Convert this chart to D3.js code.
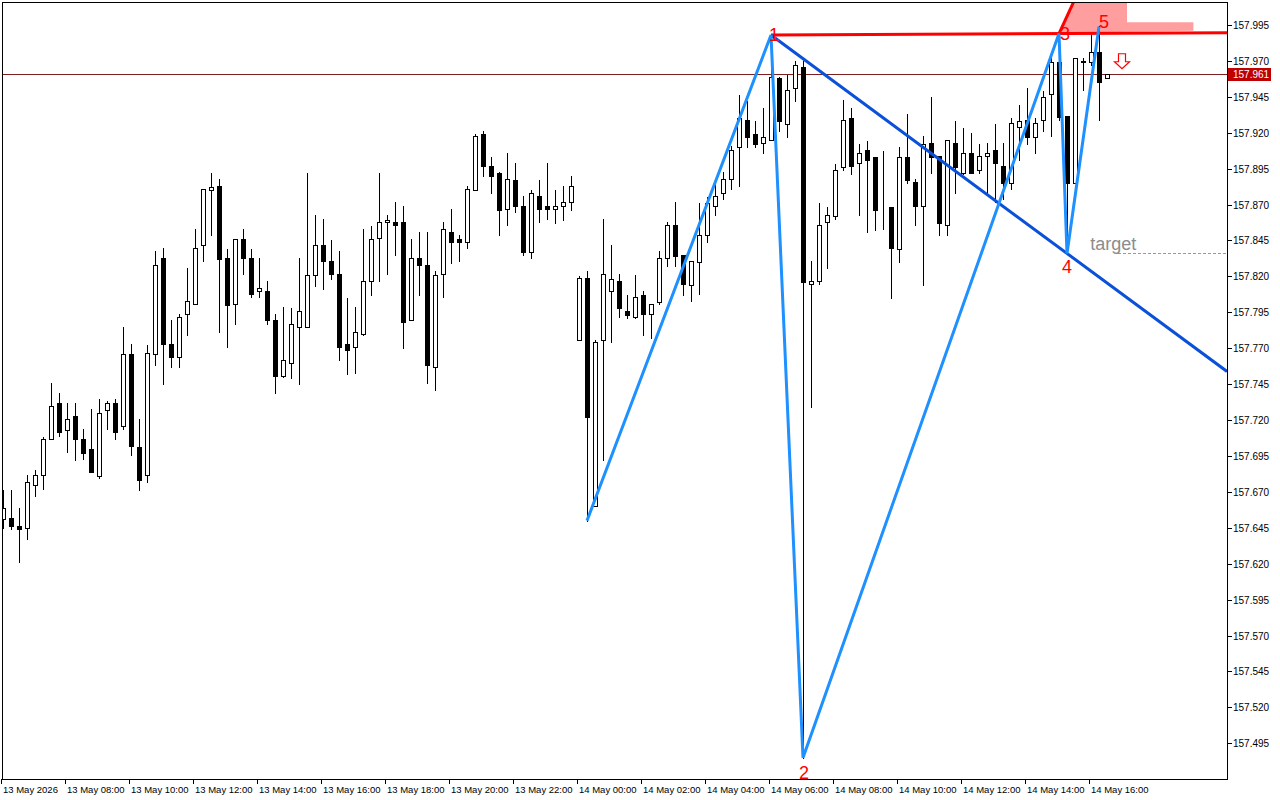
<!DOCTYPE html>
<html>
<head>
<meta charset="utf-8">
<script src="https://cdn.jsdelivr.net/npm/d3@7"></script>
<style>
  html, body { margin: 0; padding: 0; background: #ffffff; }
  svg { display: block; }
  text { font-family: "Liberation Sans", Arial, sans-serif; }
</style>
</head>
<body>
<svg id="chart" width="1280" height="800"></svg>
<script>
// ---- Data: 15-minute candles, 13 May 2026 06:00 -> 14 May 16:30 ----
const opens = [157.651,157.652,157.646,157.645,157.675,157.682,157.707,157.732,157.713,157.723,
157.707,157.700,157.681,157.727,157.732,157.716,157.766,157.701,157.682,157.766,
157.833,157.773,157.764,157.794,157.801,157.842,157.880,157.883,157.833,157.801,
157.846,157.833,157.810,157.810,157.790,157.751,157.760,157.785,157.785,157.821,
157.842,157.831,157.822,157.773,157.771,157.780,157.817,157.847,157.858,157.858,
157.858,157.790,157.833,157.828,157.757,157.822,157.851,157.846,157.844,157.880,
157.919,157.897,157.892,157.867,157.887,157.869,157.837,157.876,157.869,157.867,
157.869,157.872,157.776,157.819,157.660,157.776,157.810,157.817,157.796,157.792,
157.807,157.794,157.802,157.833,157.856,157.835,157.814,157.830,157.849,157.869,
157.878,157.888,157.910,157.929,157.919,157.913,157.915,157.958,157.926,157.951,
157.966,157.815,157.817,157.858,157.862,157.896,157.930,157.899,157.908,157.903,
157.867,157.868,157.839,157.903,157.886,157.869,157.913,157.904,157.856,157.913,
157.892,157.906,157.894,157.904,157.908,157.897,157.885,157.924,157.929,157.917,
157.929,157.947,157.969,157.932,157.885,157.969,157.969,157.976,157.958];
const highs = [157.671,157.671,157.659,157.682,157.685,157.708,157.746,157.739,157.732,157.732,
157.714,157.728,157.735,157.733,157.735,157.785,157.773,157.721,157.772,157.838,
157.840,157.790,157.794,157.826,157.853,157.881,157.892,157.888,157.839,157.846,
157.853,157.839,157.833,157.817,157.794,157.799,157.798,157.833,157.892,157.863,
157.860,157.845,157.838,157.805,157.799,157.853,157.855,157.892,157.863,157.872,
157.869,157.846,157.851,157.851,157.824,157.858,157.867,157.849,157.883,157.919,
157.921,157.903,157.893,157.906,157.899,157.876,157.880,157.887,157.899,157.880,
157.883,157.890,157.820,157.824,157.776,157.860,157.842,157.822,157.807,157.821,
157.810,157.801,157.838,157.858,157.872,157.835,157.831,157.871,157.875,157.884,
157.893,157.911,157.946,157.942,157.928,157.937,157.988,157.959,157.960,157.970,
157.970,157.831,157.871,157.868,157.898,157.943,157.937,157.912,157.914,157.903,
157.907,157.868,157.910,157.933,157.888,157.918,157.945,157.904,157.915,157.928,
157.923,157.920,157.912,157.913,157.926,157.913,157.930,157.939,157.951,157.930,
157.949,157.973,157.989,157.932,157.972,157.972,157.989,157.994,157.961];
const lows = [157.645,157.644,157.621,157.637,157.667,157.672,157.707,157.709,157.698,157.692,
157.693,157.684,157.680,157.714,157.707,157.714,157.696,157.671,157.677,157.758,
157.745,157.757,157.757,157.779,157.801,157.831,157.849,157.781,157.771,157.787,
157.822,157.806,157.806,157.787,157.739,157.750,157.749,157.745,157.785,157.813,
157.811,157.818,157.762,157.752,157.753,157.779,157.807,157.817,157.822,157.835,
157.770,157.790,157.807,157.746,157.741,157.806,157.829,157.831,157.840,157.880,
157.890,157.878,157.849,157.856,157.865,157.835,157.833,157.858,157.860,157.857,
157.859,157.866,157.776,157.650,157.660,157.692,157.774,157.792,157.791,157.791,
157.779,157.777,157.801,157.827,157.827,157.807,157.803,157.808,157.844,157.863,
157.874,157.881,157.883,157.910,157.910,157.906,157.915,157.921,157.917,157.942,
157.485,157.729,157.815,157.826,157.860,157.894,157.891,157.863,157.851,157.852,
157.853,157.805,157.830,157.885,157.856,157.814,157.892,157.849,157.849,157.878,
157.891,157.892,157.892,157.878,157.872,157.874,157.881,157.901,157.912,157.906,
157.921,157.918,157.929,157.836,157.885,157.950,157.967,157.929,157.958];
const closes = [157.659,157.646,157.644,157.677,157.682,157.707,157.730,157.712,157.721,157.707,
157.697,157.684,157.725,157.732,157.712,157.766,157.702,157.678,157.767,157.828,
157.773,157.764,157.792,157.803,157.840,157.881,157.882,157.832,157.800,157.846,
157.833,157.808,157.812,157.790,157.751,157.762,157.787,157.796,157.821,157.842,
157.831,157.822,157.771,157.769,157.781,157.817,157.846,157.858,157.859,157.856,
157.788,157.833,157.828,157.758,157.821,157.853,157.844,157.844,157.881,157.918,
157.897,157.890,157.866,157.888,157.869,157.837,157.878,157.867,157.867,157.869,
157.872,157.883,157.819,157.722,157.774,157.822,157.818,157.798,157.793,157.806,
157.794,157.801,157.833,157.856,157.834,157.815,157.831,157.849,157.871,157.876,
157.888,157.908,157.930,157.917,157.912,157.917,157.959,157.928,157.950,157.967,
157.816,157.817,157.856,157.863,157.894,157.929,157.897,157.906,157.901,157.866,
157.867,157.840,157.903,157.887,157.869,157.912,157.903,157.857,157.915,157.896,
157.906,157.892,157.904,157.906,157.899,157.885,157.927,157.928,157.917,157.927,
157.945,157.969,157.931,157.885,157.972,157.970,157.976,157.955,157.961];

// Price and time axis labels
const priceTicks = [157.495,157.520,157.545,157.570,157.595,157.620,157.645,157.670,157.695,157.720,
157.745,157.770,157.795,157.820,157.845,157.870,157.895,157.920,157.945,157.970,157.995];
const timeLabels = ["13 May 2026","13 May 08:00","13 May 10:00","13 May 12:00","13 May 14:00",
"13 May 16:00","13 May 18:00","13 May 20:00","13 May 22:00","14 May 00:00","14 May 02:00",
"14 May 04:00","14 May 06:00","14 May 08:00","14 May 10:00","14 May 12:00","14 May 14:00","14 May 16:00"];
const timeLabelIndex = [0,8,16,24,32,40,48,56,64,72,80,88,96,104,112,120,128,136];

// Wave points (candle index, price)
const waveIdx = [73, 96, 100, 132, 133, 137];
const wavePrice = [157.650, 157.988, 157.485, 157.989, 157.836, 157.994];
const waveNames = ["", "1", "2", "3", "4", "5"];
const currentPrice = 157.961;
const targetPrice = 157.836;

// ---- Layout ----
const W = 1280, H = 800;
const plotR = 1227, plotB = 779;
const svg = d3.select("#chart");

const x = d3.scaleLinear().domain([0, 138]).range([3, 1107]);
const y = d3.scaleLinear().domain([157.495, 157.995]).range([743.3, 25]);

const candles = opens.map((o, i) => ({i, o, h: highs[i], l: lows[i], c: closes[i]}));

svg.append("rect").attr("x", 0).attr("y", 0).attr("width", W).attr("height", H).attr("fill", "#fff");

const plot = svg.append("g");
svg.append("clipPath").attr("id", "clipP").append("rect")
  .attr("x", 3).attr("y", 3).attr("width", plotR - 3).attr("height", plotB - 3);

const gz = plot.append("g").attr("clip-path", "url(#clipP)");

// pink reversal zone
gz.append("path")
  .attr("d", `M${x(131.9)},${y(157.989)} L${x(135.4)},${y(158.030)} L${x(140.5)},${y(158.030)} L${x(140.5)},${y(157.997)}
    L${x(148.8)},${y(157.997)} L${x(148.8)},${y(157.991)} L${x(137)},${y(157.990)} L${x(136)},${y(157.989)} Z`)
  .attr("fill", "#ff9e9e");

// current price line
gz.append("line").attr("x1", 0).attr("x2", plotR)
  .attr("y1", Math.round(y(currentPrice)) + 0.5).attr("y2", Math.round(y(currentPrice)) + 0.5)
  .attr("stroke", "#7a1f1f").attr("stroke-width", 1);

// candles
const cg = gz.append("g");
candles.forEach(d => {
  const cx = Math.round(x(d.i)) + 0.5;
  cg.append("line").attr("x1", cx).attr("x2", cx)
    .attr("y1", Math.round(y(d.h))).attr("y2", Math.round(y(d.l)) + 1)
    .attr("stroke", "#000").attr("stroke-width", 1);
  const top = Math.round(y(Math.max(d.o, d.c)));
  const bot = Math.round(y(Math.min(d.o, d.c)));
  const bull = d.c >= d.o;
  cg.append("rect").attr("x", cx - 2).attr("y", top + 0.5)
    .attr("width", 4).attr("height", Math.max(0, bot - top))
    .attr("fill", bull ? "#fff" : "#000").attr("stroke", "#000").attr("stroke-width", 1);
});

// red resistance line through 1 and 3 extended
const p1 = [x(waveIdx[1]), y(wavePrice[1])];
const p3 = [x(waveIdx[3]), y(wavePrice[3])];
const slopeR = (p3[1] - p1[1]) / (p3[0] - p1[0]);
gz.append("line").attr("x1", p1[0]).attr("y1", p1[1]).attr("x2", plotR).attr("y2", p1[1] + slopeR * (plotR - p1[0]))
  .attr("stroke", "#ff0000").attr("stroke-width", 3);
// red steep edge from 3 upward
gz.append("line").attr("x1", p3[0]).attr("y1", p3[1]).attr("x2", x(135.4)).attr("y2", y(158.030))
  .attr("stroke", "#ff0000").attr("stroke-width", 3);

// dark blue line 1-4 extended
const p4 = [x(waveIdx[4]), y(wavePrice[4])];
const slopeB = (p4[1] - p1[1]) / (p4[0] - p1[0]);
gz.append("line").attr("x1", p1[0]).attr("y1", p1[1]).attr("x2", plotR).attr("y2", p1[1] + slopeB * (plotR - p1[0]))
  .attr("stroke", "#0a50d8").attr("stroke-width", 3);

// zigzag
const zz = waveIdx.map((k, j) => [x(k), y(wavePrice[j])]);
gz.append("path").attr("d", d3.line()(zz)).attr("fill", "none")
  .attr("stroke", "#1e90ff").attr("stroke-width", 3).attr("stroke-linejoin", "miter");

// target dashed line + label
gz.append("line").attr("x1", 1118).attr("x2", plotR)
  .attr("y1", Math.round(y(targetPrice)) + 0.5).attr("y2", Math.round(y(targetPrice)) + 0.5)
  .attr("stroke", "#999").attr("stroke-dasharray", "3,2").attr("stroke-width", 1);
gz.append("text").attr("x", x(135.9)).attr("y", y(targetPrice) - 3)
  .attr("font-size", 18).attr("fill", "#8c8c8c").text("target");

// wave labels
const labOff = [null, [3, 6], [1, 21], [6, 6], [0, 20], [5, 2]];
waveIdx.forEach((k, j) => {
  if (!waveNames[j]) return;
  gz.append("text")
    .attr("x", x(k) + labOff[j][0]).attr("y", y(wavePrice[j]) + labOff[j][1])
    .attr("text-anchor", "middle").attr("font-size", 18).attr("fill", "#ff0000")
    .text(waveNames[j]);
});

// sell arrow (hollow)
const ax = 1122, ay = y(157.975);
gz.append("path")
  .attr("d", `M${ax-3.5},${ay} L${ax+3.5},${ay} L${ax+3.5},${ay+8} L${ax+7.5},${ay+8} L${ax},${ay+15} L${ax-7.5},${ay+8} L${ax-3.5},${ay+8} Z`)
  .attr("fill", "#fff").attr("stroke", "#ff0000").attr("stroke-width", 1.2);

// frame lines
const fr = svg.append("g").attr("stroke", "#000").attr("shape-rendering", "crispEdges");
fr.append("line").attr("x1", 2.5).attr("x2", 2.5).attr("y1", 2).attr("y2", plotB + 1);
fr.append("line").attr("x1", 2).attr("x2", plotR + 1).attr("y1", 2.5).attr("y2", 2.5);
fr.append("line").attr("x1", plotR + 0.5).attr("x2", plotR + 0.5).attr("y1", 2).attr("y2", plotB + 1);
fr.append("line").attr("x1", 2).attr("x2", plotR + 1).attr("y1", plotB + 0.5).attr("y2", plotB + 0.5);

// price axis
const pa = svg.append("g");
priceTicks.forEach(p => {
  const yy = Math.round(y(p)) + 0.5;
  pa.append("line").attr("x1", plotR + 1).attr("x2", plotR + 5).attr("y1", yy).attr("y2", yy).attr("stroke", "#000");
  pa.append("text").attr("x", plotR + 6).attr("y", yy + 3.5).attr("font-size", 10).attr("fill", "#000").text(p.toFixed(3));
});
// current price tag
const cy = Math.round(y(currentPrice));
pa.append("rect").attr("x", plotR + 1).attr("y", cy - 6).attr("width", 43).attr("height", 13).attr("fill", "#c00000");
pa.append("text").attr("x", plotR + 6).attr("y", cy + 4).attr("font-size", 10).attr("fill", "#fff").text(currentPrice.toFixed(3));

// time axis
const ta = svg.append("g");
timeLabels.forEach((t, j) => {
  const xx = Math.round(x(timeLabelIndex[j])) - 1.5;
  ta.append("line").attr("x1", xx).attr("x2", xx).attr("y1", plotB).attr("y2", plotB + 5).attr("stroke", "#000");
  ta.append("text").attr("x", xx + 1.5).attr("y", plotB + 14).attr("font-size", 9.5).attr("fill", "#000").text(t);
});
</script>
</body>
</html>
